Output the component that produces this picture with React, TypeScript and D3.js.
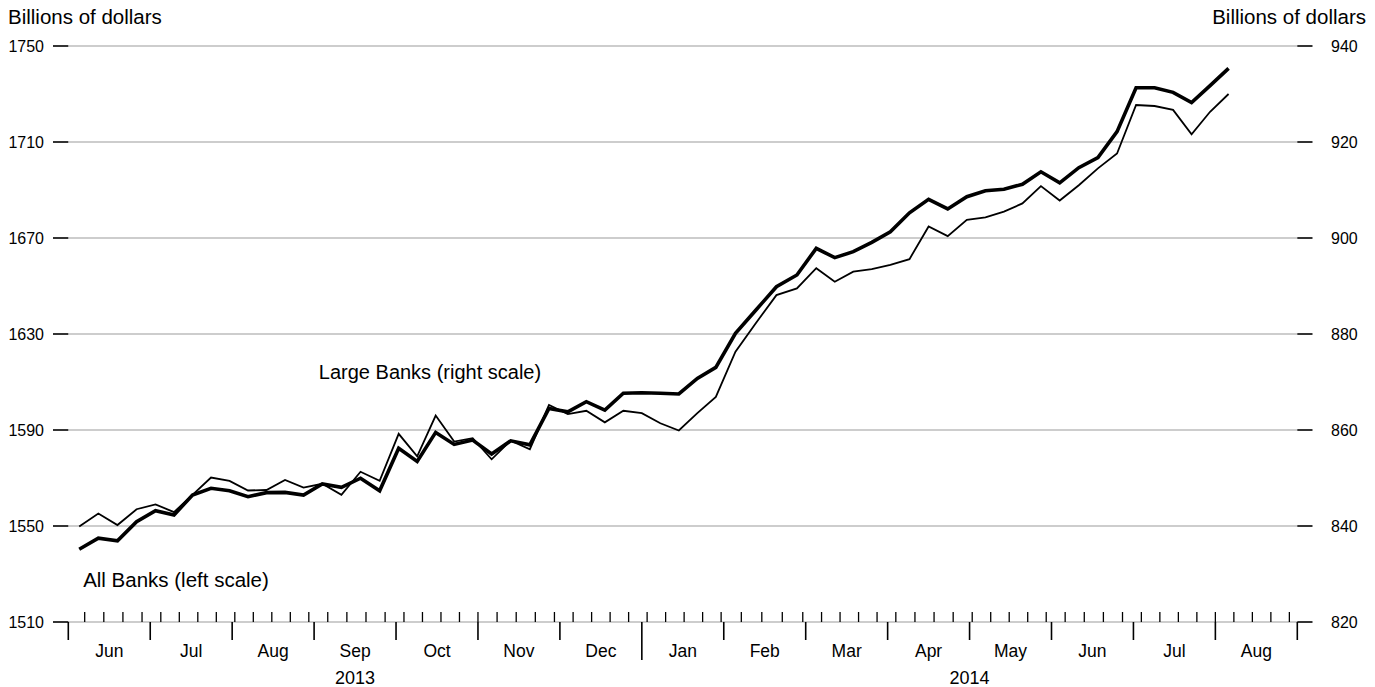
import React from "react";
import * as d3 from "d3";

// Weekly observation dates (Wednesdays)
const weekDates: string[] = [
  "2013-06-05","2013-06-12","2013-06-19","2013-06-26",
  "2013-07-03","2013-07-10","2013-07-17","2013-07-24","2013-07-31",
  "2013-08-07","2013-08-14","2013-08-21","2013-08-28",
  "2013-09-04","2013-09-11","2013-09-18","2013-09-25",
  "2013-10-02","2013-10-09","2013-10-16","2013-10-23","2013-10-30",
  "2013-11-06","2013-11-13","2013-11-20","2013-11-27",
  "2013-12-04","2013-12-11","2013-12-18","2013-12-25",
  "2014-01-01","2014-01-08","2014-01-15","2014-01-22","2014-01-29",
  "2014-02-05","2014-02-12","2014-02-19","2014-02-26",
  "2014-03-05","2014-03-12","2014-03-19","2014-03-26",
  "2014-04-02","2014-04-09","2014-04-16","2014-04-23","2014-04-30",
  "2014-05-07","2014-05-14","2014-05-21","2014-05-28",
  "2014-06-04","2014-06-11","2014-06-18","2014-06-25",
  "2014-07-02","2014-07-09","2014-07-16","2014-07-23","2014-07-30",
  "2014-08-06",
];

// All Banks, left scale (billions of dollars)
const allBanks: number[] = [
  1540.3, 1544.9, 1543.8, 1551.8,
  1556.4, 1554.6, 1562.9, 1565.7, 1564.7,
  1562.2, 1563.9, 1564.0, 1562.9,
  1567.5, 1566.1, 1569.9, 1564.7,
  1582.4, 1576.9, 1589.0, 1584.0, 1585.8,
  1580.0, 1585.5, 1583.8, 1599.0,
  1597.6, 1601.8, 1598.3, 1605.3,
  1605.5, 1605.3, 1605.0, 1611.5, 1616.1,
  1630.3, 1640.0, 1649.7, 1654.6,
  1665.7, 1661.8, 1664.3, 1668.2,
  1672.6, 1680.5, 1686.1, 1682.1, 1687.2,
  1689.7, 1690.3, 1692.4, 1697.6,
  1693.0, 1699.3, 1703.5, 1714.3,
  1732.6, 1732.6, 1730.7, 1726.4, 1733.5,
  1740.7,
];

// Large Banks, right scale (billions of dollars)
const largeBanks: number[] = [
  839.9, 842.6, 840.2, 843.5,
  844.5, 842.9, 846.5, 850.1, 849.4,
  847.4, 847.5, 849.6, 848.0,
  848.8, 846.5, 851.3, 849.4,
  859.2, 854.5, 863.0, 857.6, 858.3,
  853.9, 857.8, 856.0, 865.2,
  863.3, 864.0, 861.6, 864.0,
  863.5, 861.4, 859.9, 863.5, 866.9,
  876.3, 882.3, 888.1, 889.5,
  893.7, 890.9, 893.0, 893.5,
  894.4, 895.6, 902.4, 900.4, 903.8,
  904.3, 905.5, 907.2, 910.8,
  907.8, 911.0, 914.5, 917.6,
  927.7, 927.5, 926.7, 921.6, 926.3,
  930.0,
];

const monthLabels: string[] = [
  "Jun","Jul","Aug","Sep","Oct","Nov","Dec",
  "Jan","Feb","Mar","Apr","May","Jun","Jul","Aug",
];
const yearLabels: { label: string; from: number; to: number }[] = [
  { label: "2013", from: 0, to: 7 },
  { label: "2014", from: 7, to: 15 },
];
const leftTicks: number[] = [1510, 1550, 1590, 1630, 1670, 1710, 1750];
const rightTicks: number[] = [820, 840, 860, 880, 900, 920, 940];

const W = 1375;
const H = 687;
const X0 = 68.3;
const X1 = 1297.3;
const Y0 = 622;
const Y1 = 46;
const FONT = "'Liberation Sans', Arial, Helvetica, sans-serif";

const monthScale = d3.scaleLinear().domain([0, monthLabels.length]).range([X0, X1]);
const yLeft = d3.scaleLinear().domain([1510, 1750]).range([Y0, Y1]);
const yRight = d3.scaleLinear().domain([820, 940]).range([Y0, Y1]);

const startYear = 2013;
const startMonth = 5; // June (0-based)

function dateX(d: Date): number {
  const m = (d.getFullYear() - startYear) * 12 + d.getMonth() - startMonth;
  const dim = new Date(d.getFullYear(), d.getMonth() + 1, 0).getDate();
  return monthScale(m + (d.getDate() - 1) / dim);
}

const parse = d3.timeParse("%Y-%m-%d");

export default function App() {
  const dates = weekDates.map((s) => parse(s) as Date);
  const allPts = dates.map((d, i) => [dateX(d), yLeft(allBanks[i])] as [number, number]);
  const largePts = dates.map((d, i) => [dateX(d), yRight(largeBanks[i])] as [number, number]);
  const line = d3.line<[number, number]>().x((p) => p[0]).y((p) => p[1]);

  const fridays = d3.timeFriday.range(new Date(2013, 5, 1), new Date(2014, 8, 1));

  return (
    <svg width={W} height={H} style={{ display: "block", position: "absolute", left: 0, top: 0, background: "#fff" }}>
      {/* gridlines */}
      {leftTicks.map((t) => (
        <line key={"g" + t} x1={X0} x2={X1} y1={yLeft(t)} y2={yLeft(t)} stroke="#bdbdbd" strokeWidth={1.3} />
      ))}
      {/* left axis ticks & labels */}
      {leftTicks.map((t) => (
        <g key={"l" + t}>
          <line x1={53} x2={X0} y1={yLeft(t)} y2={yLeft(t)} stroke="#000" strokeWidth={1.6} />
          <text x={44} y={yLeft(t)} dy="0.35em" textAnchor="end" fontFamily={FONT} fontSize={16} fill="#000">{t}</text>
        </g>
      ))}
      {rightTicks.map((t) => (
        <g key={"r" + t}>
          <line x1={X1} x2={1312.5} y1={yRight(t)} y2={yRight(t)} stroke="#000" strokeWidth={1.6} />
          <text x={1331} y={yRight(t)} dy="0.35em" textAnchor="start" fontFamily={FONT} fontSize={16} fill="#000">{t}</text>
        </g>
      ))}
      <text x={8} y={24} fontFamily={FONT} fontSize={20.5} fill="#000">Billions of dollars</text>
      <text x={1366} y={24} textAnchor="end" fontFamily={FONT} fontSize={20.5} fill="#000">Billions of dollars</text>

      {/* weekly ticks */}
      {fridays.map((f, i) => {
        const x = dateX(f);
        return <line key={"w" + i} x1={x} x2={x} y1={Y0 - 10} y2={Y0} stroke="#000" strokeWidth={1.3} />;
      })}
      {/* month boundary ticks */}
      {d3.range(monthLabels.length + 1).map((m) => {
        const x = monthScale(m);
        const isYear = m === 7;
        return <line key={"m" + m} x1={x} x2={x} y1={Y0} y2={isYear ? 660 : 640} stroke="#000" strokeWidth={1.6} />;
      })}
      {monthLabels.map((lab, m) => (
        <text key={"ml" + m} x={monthScale(m + 0.5)} y={657} textAnchor="middle" fontFamily={FONT} fontSize={17.5} fill="#000">{lab}</text>
      ))}
      {yearLabels.map((y) => (
        <text key={y.label} x={(monthScale(y.from) + monthScale(y.to)) / 2} y={684} textAnchor="middle" fontFamily={FONT} fontSize={18} fill="#000">{y.label}</text>
      ))}

      {/* series */}
      <path d={line(largePts) || ""} fill="none" stroke="#000" strokeWidth={1.8} strokeLinejoin="miter" />
      <path d={line(allPts) || ""} fill="none" stroke="#000" strokeWidth={3.6} strokeLinejoin="miter" />

      <text x={430} y={379} textAnchor="middle" fontFamily={FONT} fontSize={20} fill="#000">Large Banks (right scale)</text>
      <text x={176} y={587} textAnchor="middle" fontFamily={FONT} fontSize={20.5} fill="#000">All Banks (left scale)</text>
    </svg>
  );
}
